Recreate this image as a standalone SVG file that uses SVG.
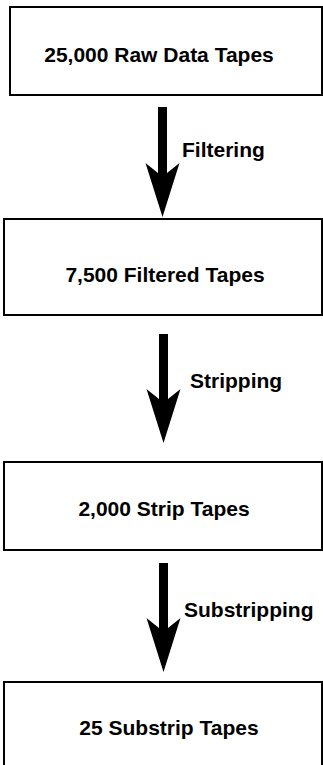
<svg xmlns="http://www.w3.org/2000/svg" width="323" height="765" viewBox="0 0 323 765">
  <style>
    .box { fill: #ffffff; stroke: #000000; stroke-width: 2; }
    .title { font-family: "Liberation Sans", Arial, Helvetica, sans-serif; font-weight: bold; font-size: 21px; fill: #000000; text-anchor: middle; }
    .label { font-family: "Liberation Sans", Arial, Helvetica, sans-serif; font-weight: bold; font-size: 21px; fill: #000000; }
    .shaft { stroke: #000000; stroke-width: 9; fill: none; marker-end: url(#head); }
  </style>
  <defs>
    <marker id="head" markerUnits="userSpaceOnUse" orient="auto" refX="0" refY="0" markerWidth="60" markerHeight="40" overflow="visible">
      <path d="M -2,-4.5 L -12,-17 L 42,0 L -12,17 L -2,4.5 Z" fill="#000000"/>
    </marker>
  </defs>
  <rect width="323" height="765" fill="#ffffff"/>

  <g id="node-raw">
    <rect class="box" x="10" y="7" width="312" height="88"/>
    <text class="title" x="159" y="62">25,000 Raw Data Tapes</text>
  </g>
  <g id="node-filtered">
    <rect class="box" x="4" y="219" width="318" height="96"/>
    <text class="title" x="165" y="282">7,500 Filtered Tapes</text>
  </g>
  <g id="node-strip">
    <rect class="box" x="4" y="462" width="318" height="88"/>
    <text class="title" x="164" y="516">2,000 Strip Tapes</text>
  </g>
  <g id="node-substrip">
    <rect class="box" x="4" y="682" width="318" height="100"/>
    <text class="title" x="169" y="735">25 Substrip Tapes</text>
  </g>

  <g id="connectors">
    <line class="shaft" x1="162.5" y1="107" x2="162.5" y2="175"/>
    <text class="label" x="182" y="157">Filtering</text>
    <line class="shaft" x1="163.5" y1="334" x2="163.5" y2="401"/>
    <text class="label" x="190" y="388">Stripping</text>
    <line class="shaft" x1="163.5" y1="563" x2="163.5" y2="630"/>
    <text class="label" x="184" y="617">Substripping</text>
  </g>
</svg>
